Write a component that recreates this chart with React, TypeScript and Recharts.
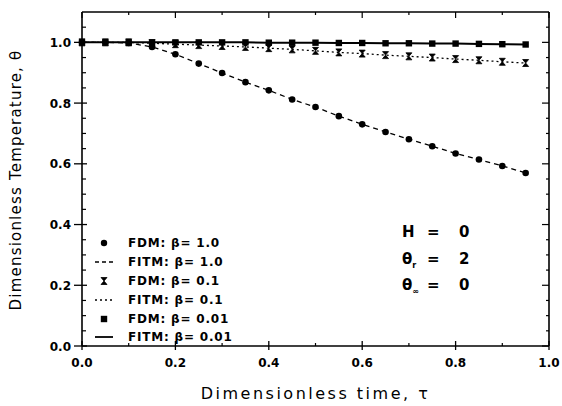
import { ComposedChart, Line, XAxis, YAxis } from "recharts"

// dimensionless time
const tau = [0, 0.05, 0.1, 0.15, 0.2, 0.25, 0.3, 0.35, 0.4, 0.45, 0.5, 0.55, 0.6, 0.65, 0.7, 0.75, 0.8, 0.85, 0.9, 0.95]

// theta for beta = 1.0, 0.1, 0.01 (FDM points sit on the FITM curves)
const thetaB10 = [1.0, 1.0, 0.998, 0.985, 0.961, 0.93, 0.899, 0.869, 0.842, 0.812, 0.787, 0.757, 0.73, 0.705, 0.681, 0.658, 0.634, 0.614, 0.593, 0.57]
const thetaB01 = [1.0, 1.0, 1.0, 0.997, 0.994, 0.991, 0.988, 0.985, 0.981, 0.977, 0.972, 0.967, 0.963, 0.958, 0.954, 0.95, 0.945, 0.941, 0.936, 0.932]
const thetaB001 = [1.0, 1.0, 1.0, 1.0, 1.0, 1.0, 1.0, 1.0, 0.999, 0.999, 0.999, 0.998, 0.998, 0.997, 0.997, 0.996, 0.996, 0.995, 0.994, 0.993]

const xTicks = [0, 0.1, 0.2, 0.3, 0.4, 0.5, 0.6, 0.7, 0.8, 0.9, 1.0]
const yTicks = [0, 0.05, 0.1, 0.15, 0.2, 0.25, 0.3, 0.35, 0.4, 0.45, 0.5, 0.55, 0.6, 0.65, 0.7, 0.75, 0.8, 0.85, 0.9, 0.95, 1.0, 1.05]

const legendLabels = ["FDM: β= 1.0", "FITM: β= 1.0", "FDM: β= 0.1", "FITM: β= 0.1", "FDM: β= 0.01", "FITM: β= 0.01"]
const notes = [
  ["H", "", "0"],
  ["θ", "r", "2"],
  ["θ", "∞", "0"],
]

const rows = tau.map((t, i) => ({ tau: t, b10: thetaB10[i], b01: thetaB01[i], b001: thetaB001[i] }))

const FONT = "'DejaVu Sans', 'Liberation Sans', Arial, sans-serif"
const isMajor = (v: number) => Math.abs(v * 5 - Math.round(v * 5)) < 1e-6

const Circle = ({ cx, cy }: any) => <circle cx={cx} cy={cy} r={3.3} fill="#000" />
const Hourglass = ({ cx, cy }: any) => (
  <polygon points={`${cx - 3},${cy - 3.5} ${cx + 3},${cy - 3.5} ${cx - 3},${cy + 3.5} ${cx + 3},${cy + 3.5}`} fill="#000" stroke="#000" strokeWidth={0.8} />
)
const Square = ({ cx, cy }: any) => <rect x={cx - 3.2} y={cy - 3.2} width={6.4} height={6.4} fill="#000" />

const LeftTick = ({ x, y, payload }: any) => {
  const v = payload.value
  if (!isMajor(v)) return <line x1={x} x2={x + 4} y1={y} y2={y} stroke="#000" strokeWidth={1.2} />
  return (
    <g>
      <line x1={x - 8} x2={x + 5} y1={y} y2={y} stroke="#000" strokeWidth={1.3} />
      <text x={x - 11} y={y + 4.5} textAnchor="end" fontFamily={FONT} fontWeight="bold" fontSize={12} fill="#000">
        {v.toFixed(1)}
      </text>
    </g>
  )
}

const RightTick = ({ x, y, payload }: any) => {
  const len = isMajor(payload.value) ? 7 : 3
  return <line x1={x - len} x2={x} y1={y} y2={y} stroke="#000" strokeWidth={1.2} />
}

const BottomTick = ({ x, y, payload }: any) => {
  const v = payload.value
  if (!isMajor(v)) return <line x1={x} x2={x} y1={y} y2={y - 3} stroke="#000" strokeWidth={1.2} />
  return (
    <g>
      <line x1={x} x2={x} y1={y - 5} y2={y + 4} stroke="#000" strokeWidth={1.3} />
      <text x={x} y={y + 21} textAnchor="middle" fontFamily={FONT} fontWeight="bold" fontSize={12} fill="#000">
        {v.toFixed(1)}
      </text>
    </g>
  )
}

const TopTick = ({ x, y, payload }: any) => {
  const len = isMajor(payload.value) ? 6 : 3
  return <line x1={x} x2={x} y1={y} y2={y + len} stroke="#000" strokeWidth={1.2} />
}

const legendSymbols = [
  <circle cx={12} cy={6} r={3.2} fill="#000" />,
  <line x1={3} x2={21} y1={6} y2={6} stroke="#000" strokeWidth={1.3} strokeDasharray="4 3" />,
  <Hourglass cx={12} cy={6} />,
  <line x1={3} x2={21} y1={6} y2={6} stroke="#000" strokeWidth={1.3} strokeDasharray="2 3" />,
  <Square cx={12} cy={6} />,
  <line x1={3} x2={21} y1={6} y2={6} stroke="#000" strokeWidth={1.8} />,
]

export default function App() {
  const axisLine = { stroke: "#000", strokeWidth: 1.6 }
  return (
    <div style={{ position: "absolute", left: 0, top: 0, width: 562, height: 406, background: "#fff", fontFamily: FONT }}>
      <ComposedChart width={562} height={406} data={rows} margin={{ top: 2, right: 3, bottom: 30, left: 22 }}>
        <XAxis dataKey="tau" type="number" domain={[0, 1]} ticks={xTicks} interval={0} height={30}
          axisLine={axisLine} tickLine={false} tickSize={0} tickMargin={0} tick={<BottomTick />} />
        <XAxis xAxisId="top" dataKey="tau" orientation="top" type="number" domain={[0, 1]} ticks={xTicks} interval={0} height={10}
          axisLine={axisLine} tickLine={false} tickSize={0} tickMargin={0} tick={<TopTick />} />
        <YAxis type="number" domain={[0, 1.1]} ticks={yTicks} interval={0} width={60}
          axisLine={axisLine} tickLine={false} tickSize={0} tickMargin={0} tick={<LeftTick />} />
        <YAxis yAxisId="right" orientation="right" type="number" domain={[0, 1.1]} ticks={yTicks} interval={0} width={10}
          axisLine={axisLine} tickLine={false} tickSize={0} tickMargin={0} tick={<RightTick />} />

        {/* hidden series so the frame axes get the same scales */}
        <Line xAxisId="top" yAxisId="right" dataKey="b001" stroke="none" dot={false} legendType="none" isAnimationActive={false} />

        <Line dataKey="b10" type="linear" stroke="#000" strokeWidth={1.3} strokeDasharray="5 4" dot={false} isAnimationActive={false} />
        <Line dataKey="b01" type="linear" stroke="#000" strokeWidth={1.3} strokeDasharray="2 3" dot={false} isAnimationActive={false} />
        <Line dataKey="b001" type="linear" stroke="#000" strokeWidth={2} dot={false} isAnimationActive={false} />

        <Line dataKey="b10" stroke="none" isAnimationActive={false}
          dot={(p: any) => <Circle key={`c${p.index}`} cx={p.cx} cy={p.cy} />} />
        <Line dataKey="b01" stroke="none" isAnimationActive={false}
          dot={(p: any) => <Hourglass key={`h${p.index}`} cx={p.cx} cy={p.cy} />} />
        <Line dataKey="b001" stroke="none" isAnimationActive={false}
          dot={(p: any) => <Square key={`s${p.index}`} cx={p.cx} cy={p.cy} />} />
      </ComposedChart>

      {/* legend */}
      <div style={{ position: "absolute", left: 92, top: 234 }}>
        {legendLabels.map((label, i) => (
          <div key={label} style={{ display: "flex", alignItems: "center", height: 18.8 }}>
            <svg width={24} height={12} style={{ marginRight: 12 }}>{legendSymbols[i]}</svg>
            <span style={{ fontSize: 12, fontWeight: "bold", letterSpacing: 0.8, whiteSpace: "nowrap" }}>{label}</span>
          </div>
        ))}
      </div>

      {/* parameter notes */}
      {notes.map(([sym, sub, val], i) => (
        <div key={i} style={{ position: "absolute", left: 402, top: 223 + i * 26.5, height: 20, width: 80, fontSize: 15, fontWeight: "bold" }}>
          <span style={{ position: "absolute", left: 0 }}>
            {sym}
            {sub && <sub style={{ fontSize: 8 }}>{sub}</sub>}
          </span>
          <span style={{ position: "absolute", left: 25 }}>=</span>
          <span style={{ position: "absolute", left: 57 }}>{val}</span>
        </div>
      ))}

      {/* axis titles */}
      <div style={{ position: "absolute", left: 315.5, top: 393, transform: "translate(-50%, -50%)", fontSize: 16, letterSpacing: 2.5, whiteSpace: "nowrap" }}>
        Dimensionless time, τ
      </div>
      <div style={{ position: "absolute", left: 16, top: 180, transform: "translate(-50%, -50%) rotate(-90deg)", fontSize: 15, letterSpacing: 1.2, whiteSpace: "nowrap" }}>
        Dimensionless Temperature, θ
      </div>
    </div>
  )
}
